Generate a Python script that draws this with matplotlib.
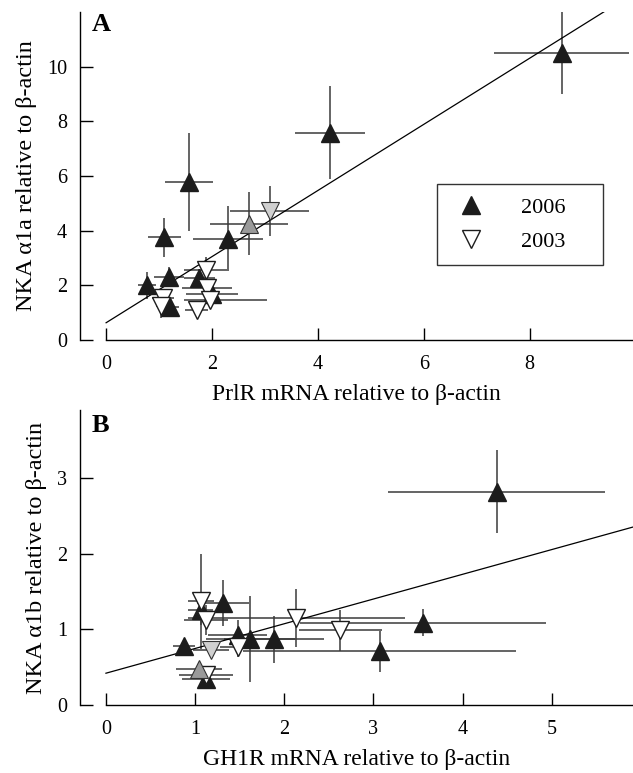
import numpy as np
import matplotlib
matplotlib.use('Agg')
from matplotlib import pyplot as plt
from matplotlib.lines import Line2D

plt.rcParams['font.family'] = ['Liberation Serif', 'DejaVu Serif']
plt.rcParams['mathtext.fontset'] = 'stix'

# ---- panel A: PrlR vs NKA a1a ----
a06_x = [8.6, 4.23, 1.57, 1.10, 2.31, 0.77, 1.19, 1.76, 1.20, 2.00]
a06_y = [10.5, 7.58, 5.78, 3.75, 3.71, 2.00, 2.31, 2.28, 1.22, 1.70]
a06_xerr = [1.27, 0.66, 0.45, 0.31, 0.66, 0.17, 0.28, 0.29, 0.17, 0.50]
a06_yerr = [1.5, 1.7, 1.8, 0.72, 1.2, 0.5, 0.35, 0.3, 0.15, 0.3]

a03_x = [1.88, 1.91, 1.96, 1.71, 1.07, 1.04]
a03_y = [2.55, 1.89, 1.46, 1.09, 1.52, 1.25]
a03_xlo = [0.40, 0.47, 0.49, 0.22, 0.21, 0.10]
a03_xhi = [0.40, 0.47, 1.08, 0.22, 0.21, 0.10]
a03_yerr = [0.5, 0.3, 0.3, 0.2, 0.2, 0.45]

a_grey_up = (2.70, 4.26, 0.74, 1.15)
a_grey_dn = (3.09, 4.72, 0.75, 0.90)
a_fit = (0.63, 1.21)

# ---- panel B: GH1R vs NKA a1b ----
b06_x = [4.38, 1.065, 1.31, 1.62, 1.88, 1.48, 3.56, 3.07, 0.875, 1.12]
b06_y = [2.82, 1.26, 1.35, 0.87, 0.87, 0.93, 1.09, 0.71, 0.78, 0.35]
b06_xerr = [1.22, 0.14, 0.29, 0.50, 0.56, 0.33, 1.38, 1.53, 0.12, 0.27]
b06_yerr = [0.55, 0.2, 0.3, 0.57, 0.31, 0.2, 0.18, 0.27, 0.08, 0.05]

b03_x = [1.065, 1.12, 2.135, 2.63, 1.48, 1.12]
b03_y = [1.37, 1.12, 1.15, 0.99, 0.77, 0.40]
b03_xlo = [0.15, 0.25, 1.22, 0.46, 0.20, 0.30]
b03_xhi = [0.15, 0.25, 1.22, 0.46, 0.20, 0.30]
b03_yerr = [0.63, 0.2, 0.38, 0.27, 0.13, 0.1]

b_grey_up = (1.04, 0.47, 0.26, 0.10)
b_grey_dn = (1.18, 0.73, 0.20, 0.10)
b_fit = (0.42, 0.327)

ms = 13
ecol = '#3a3a3a'


def errs(ax, x, y, xerr, yerr):
    ax.errorbar(x, y, xerr=xerr, yerr=yerr, fmt='none', ecolor=ecol,
                elinewidth=1.1, capsize=0, zorder=1)


def panel(ax, d06, d03, gup, gdn, fit, xlim, ylim, xticks, yticks, xlab, ylab):
    x06, y06, xe06, ye06 = d06
    x03, y03, xlo, xhi, ye03 = d03
    errs(ax, x06, y06, xe06, ye06)
    errs(ax, x03, y03, [xlo, xhi], ye03)
    errs(ax, [gup[0]], [gup[1]], [gup[2]], [gup[3]])
    errs(ax, [gdn[0]], [gdn[1]], [gdn[2]], [gdn[3]])

    xs = np.array([0, xlim[1]])
    ax.plot(xs, fit[0] + fit[1] * xs, color='k', lw=0.9, zorder=2)

    ax.plot(x06, y06, '^', ms=ms, mfc='#1c1c1c', mec='#1c1c1c', zorder=3)
    ax.plot(x03, y03, 'v', ms=ms, mfc='white', mec='#1c1c1c', mew=1.0, zorder=3)
    ax.plot(gup[0], gup[1], '^', ms=ms, mfc='#9a9a9a', mec='#333333', mew=0.8, zorder=3)
    ax.plot(gdn[0], gdn[1], 'v', ms=ms, mfc='#d0d0d0', mec='#333333', mew=0.8, zorder=3)

    ax.set_xlim(*xlim)
    ax.set_ylim(*ylim)
    ax.set_xticks(xticks)
    ax.set_yticks(yticks)
    for s in ['top', 'right']:
        ax.spines[s].set_visible(False)
    ax.spines['bottom'].set_bounds(0, xlim[1])
    ax.spines['left'].set_linewidth(1.0)
    ax.spines['bottom'].set_linewidth(1.0)
    ax.tick_params(direction='in', length=9, width=1.0, labelsize=14.5)
    ax.tick_params(axis='x', pad=11)
    ax.tick_params(axis='y', pad=9)
    ax.set_xlabel(xlab, fontsize=17, labelpad=7)
    ax.set_ylabel(ylab, fontsize=17.5, labelpad=7)


fig = plt.figure(figsize=(6.33, 7.73), dpi=100)
axA = fig.add_axes([0.1258, 0.5602, 0.8742, 0.4243])
axB = fig.add_axes([0.1258, 0.0880, 0.8742, 0.3816])

panel(axA, (a06_x, a06_y, a06_xerr, a06_yerr),
      (a03_x, a03_y, a03_xlo, a03_xhi, a03_yerr),
      a_grey_up, a_grey_dn, a_fit, (-0.5, 9.95), (0, 12),
      [0, 2, 4, 6, 8], [0, 2, 4, 6, 8, 10],
      'PrlR mRNA relative to β-actin', 'NKA α1a relative to β-actin')

panel(axB, (b06_x, b06_y, b06_xerr, b06_yerr),
      (b03_x, b03_y, b03_xlo, b03_xhi, b03_yerr),
      b_grey_up, b_grey_dn, b_fit, (-0.295, 5.91), (0, 3.9),
      [0, 1, 2, 3, 4, 5], [0, 1, 2, 3],
      'GH1R mRNA relative to β-actin', 'NKA α1b relative to β-actin')

handles = [Line2D([], [], ls='none', marker='^', ms=ms, mfc='#1c1c1c', mec='#1c1c1c'),
           Line2D([], [], ls='none', marker='v', ms=ms, mfc='white', mec='#1c1c1c')]
leg = axA.legend(handles, ['2006', '2003'], loc='upper left',
                 bbox_to_anchor=(0.645, 0.229, 0.301, 0.247), mode='expand',
                 borderaxespad=0, fontsize=16, frameon=True, fancybox=False,
                 edgecolor='k', borderpad=0.6, labelspacing=0.6,
                 handlelength=1.9, handletextpad=1.3)
leg.get_frame().set_linewidth(1.0)

fig.text(0.145, 0.968, 'A', fontsize=19, fontweight='bold', va='center', ha='left')
fig.text(0.145, 0.450, 'B', fontsize=19, fontweight='bold', va='center', ha='left')

fig.savefig('out.png', dpi=100)
